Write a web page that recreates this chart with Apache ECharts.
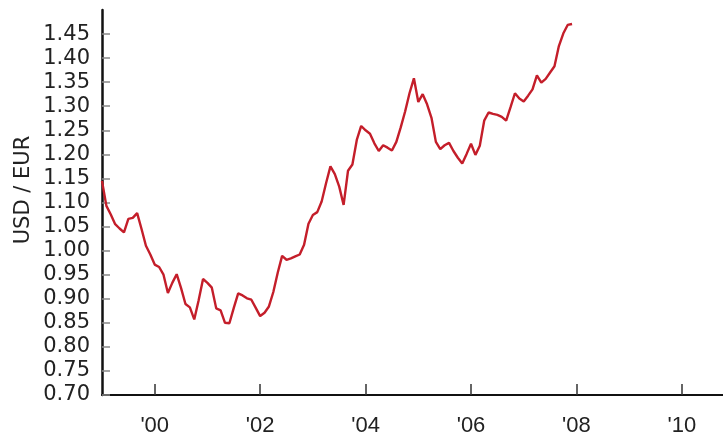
<!DOCTYPE html>
<html>
<head>
<meta charset="utf-8">
<script src="https://cdn.jsdelivr.net/npm/echarts@6/dist/echarts.min.js"></script>
<style>html,body{margin:0;padding:0;background:#fff;}#chart{width:723px;height:443px;}</style>
</head>
<body>
<div id="chart"></div>
<script>
// Monthly USD/EUR rate, Jan 1999 .. Nov 2007
const startYear = 1999;
const rates = [
  1.145, 1.093, 1.075, 1.055, 1.046, 1.038, 1.066, 1.068, 1.078, 1.045, 1.010, 0.992,
  0.971, 0.966, 0.950, 0.912, 0.933, 0.951, 0.922, 0.889, 0.882, 0.857, 0.897, 0.941,
  0.933, 0.923, 0.880, 0.876, 0.850, 0.849, 0.881, 0.911, 0.907, 0.901, 0.898, 0.881,
  0.864, 0.871, 0.884, 0.914, 0.954, 0.989, 0.981, 0.984, 0.988, 0.992, 1.012, 1.056,
  1.074, 1.080, 1.102, 1.140, 1.175, 1.159, 1.133, 1.095, 1.166, 1.179, 1.230, 1.259,
  1.250, 1.243, 1.223, 1.207, 1.219, 1.214, 1.208, 1.226, 1.256, 1.289, 1.327, 1.358,
  1.309, 1.325, 1.304, 1.276, 1.226, 1.211, 1.219, 1.224, 1.207, 1.193, 1.181, 1.201,
  1.222, 1.199, 1.218, 1.270, 1.287, 1.284, 1.282, 1.278, 1.270, 1.298, 1.327, 1.316,
  1.310, 1.322, 1.335, 1.364, 1.349, 1.357, 1.370, 1.383, 1.425, 1.451, 1.469, 1.471
];
const xTicks = [2000, 2002, 2004, 2006, 2008, 2010];
const yTicks = [0.70, 0.75, 0.80, 0.85, 0.90, 0.95, 1.00, 1.05, 1.10, 1.15, 1.20, 1.25, 1.30, 1.35, 1.40, 1.45];
const yTitle = 'USD / EUR';

const seriesData = rates.map((v, i) => [startYear + i / 12, v]);

const chart = echarts.init(document.getElementById('chart'));
chart.setOption({
  animation: false,
  backgroundColor: '#fff',
  grid: { left: 102, right: 0, top: 10, bottom: 48, containLabel: false },
  xAxis: {
    type: 'value', min: 1999, max: 2010.78,
    axisLine: { show: true, lineStyle: { color: '#111', width: 2 } },
    axisTick: { show: true, inside: true, length: 11, customValues: xTicks, lineStyle: { color: '#333', width: 1.5 } },
    axisLabel: {
      customValues: xTicks, margin: 20,
      formatter: v => "'" + String(Math.round(v)).slice(2),
      fontFamily: 'Liberation Sans', fontSize: 22, color: '#222'
    },
    splitLine: { show: false }
  },
  yAxis: {
    type: 'value', min: 0.70, max: 1.50,
    axisLine: { show: true, lineStyle: { color: '#111', width: 2.5 } },
    axisTick: { show: true, inside: true, length: 8, customValues: yTicks, lineStyle: { color: '#888', width: 1.5 } },
    axisLabel: {
      customValues: yTicks, margin: 12,
      formatter: v => v.toFixed(2),
      fontFamily: 'DejaVu Sans', fontSize: 21, color: '#222'
    },
    splitLine: { show: false }
  },
  graphic: [{
    type: 'text', x: 24, y: 190, rotation: Math.PI / 2,
    style: { text: yTitle, fontFamily: 'DejaVu Sans', fontSize: 21, fill: '#222', align: 'center', verticalAlign: 'middle' }
  }],
  series: [{
    type: 'line', data: seriesData, showSymbol: false,
    lineStyle: { color: '#c41e2a', width: 2.4 }
  }]
});
</script>
</body>
</html>
